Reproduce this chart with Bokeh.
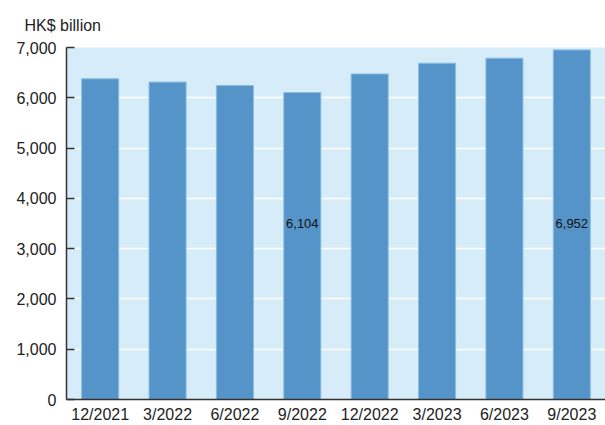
from bokeh.plotting import figure
from bokeh.models import ColumnDataSource, NumeralTickFormatter, FixedTicker, Range1d
from bokeh.embed import file_html
from bokeh.resources import INLINE
from bokeh.core.properties import value

# Quarter-end totals, HK$ billion
periods = ["12/2021", "3/2022", "6/2022", "9/2022", "12/2022", "3/2023", "6/2023", "9/2023"]
totals = [6378, 6312, 6246, 6104, 6474, 6688, 6787, 6952]

# Bars carrying a printed value
labelled_periods = ["9/2022", "9/2023"]
labelled_values = [6104, 6952]
label_height = [3500, 3500]

y_ticks = [0, 1000, 2000, 3000, 4000, 5000, 6000, 7000]

FONT = "Liberation Sans"

p = figure(x_range=periods, width=605, height=425, output_backend="svg",
           toolbar_location=None, min_border_left=66, min_border_right=0,
           min_border_top=47, min_border_bottom=25,
           title="HK$ billion", title_location="above")
p.y_range = Range1d(0, 7000)
p.x_range.range_padding = 0

p.title.align = "left"
p.title.offset = -42
p.title.text_font = FONT
p.title.text_font_size = "16px"
p.title.text_font_style = "normal"
p.title.text_color = "#222222"
p.title.standoff = 28

p.background_fill_color = "#d6ecf9"
p.border_fill_color = "white"
p.outline_line_color = None

src = ColumnDataSource(dict(period=periods, total=totals))
p.vbar(x="period", top="total", width=0.55, source=src,
       fill_color="#5594c8", line_color="#8cbde3", line_width=1)

lab = ColumnDataSource(dict(period=labelled_periods, y=label_height,
                            txt=[f"{v:,}" for v in labelled_values]))
p.text(x="period", y="y", text="txt", source=lab, text_align="center",
       text_baseline="middle", text_font=value(FONT), text_font_size="13px",
       text_color="#111111")

# grid
p.xgrid.grid_line_color = None
p.ygrid.grid_line_color = "white"
p.ygrid.grid_line_width = 1.5
p.ygrid.ticker = FixedTicker(ticks=y_ticks)

# y axis
p.yaxis.ticker = FixedTicker(ticks=y_ticks)
p.yaxis.formatter = NumeralTickFormatter(format="0,0")
p.yaxis.major_tick_in = 8
p.yaxis.major_tick_out = 0
p.yaxis.minor_tick_line_color = None
p.yaxis.axis_line_color = "#333333"
p.yaxis.axis_line_width = 1.5
p.yaxis.major_tick_line_color = "#333333"
p.yaxis.major_tick_line_width = 1.5
p.yaxis.major_label_text_font = FONT
p.yaxis.major_label_text_font_size = "16px"
p.yaxis.major_label_text_color = "#222222"
p.yaxis.major_label_standoff = 10

# x axis
p.xaxis.major_tick_in = 0
p.xaxis.major_tick_out = 0
p.xaxis.major_tick_line_color = None
p.xaxis.minor_tick_line_color = None
p.xaxis.axis_line_color = "#333333"
p.xaxis.axis_line_width = 1.5
p.xaxis.major_label_text_font = FONT
p.xaxis.major_label_text_font_size = "16px"
p.xaxis.major_label_text_color = "#222222"
p.xaxis.major_label_standoff = 6

open("out.html", "w").write(file_html(p, INLINE))
